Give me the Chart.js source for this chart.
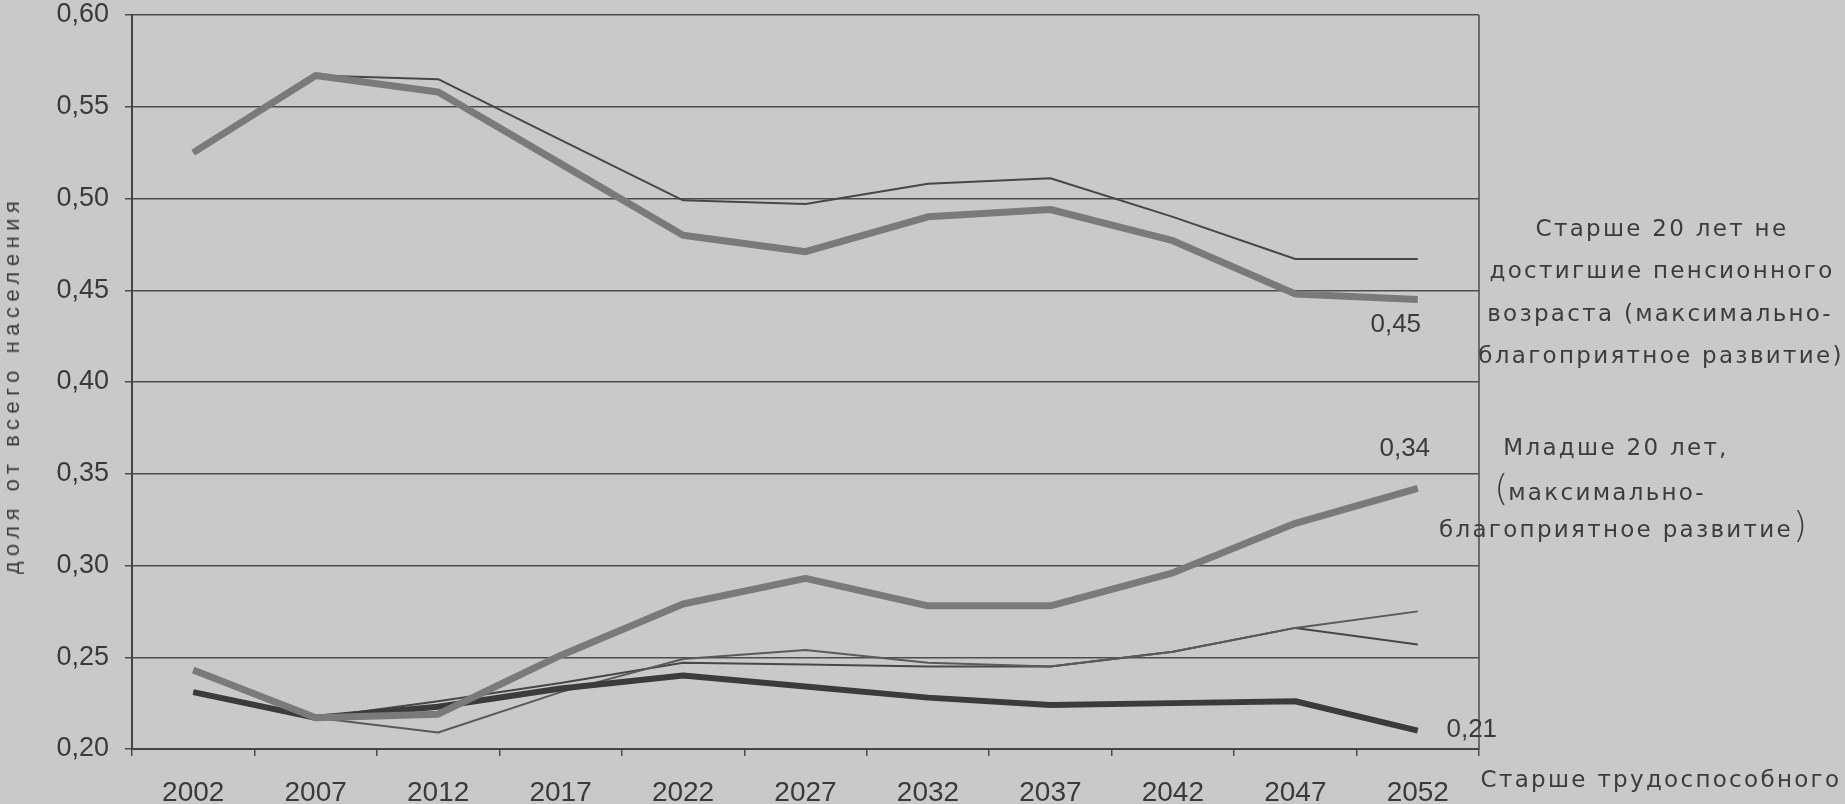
<!DOCTYPE html>
<html><head><meta charset="utf-8">
<script src="https://cdn.jsdelivr.net/npm/chart.js@4/dist/chart.umd.min.js"></script>
<style>
html,body{margin:0;padding:0;background:#c9c9c9;overflow:hidden}
#wrap{position:relative;width:1845px;height:804px;background:#c9c9c9}
canvas{position:absolute;left:0;top:0}
.t{position:absolute;white-space:nowrap;color:#3c3c3c;transform:translate(-50%,-50%);font-family:"DejaVu Sans",sans-serif;font-size:23px;letter-spacing:2.3px}
.p{font-size:36px;letter-spacing:0;font-weight:300}
</style></head><body>
<div id="wrap"><canvas id="c" width="1845" height="804"></canvas></div>
<script>
// ---- data ----
const years = ['2002','2007','2012','2017','2022','2027','2032','2037','2042','2047','2052'];
const yTickLabels = ['0,20','0,25','0,30','0,35','0,40','0,45','0,50','0,55','0,60'];
const workingAgeMax = [0.525,0.567,0.558,0.519,0.480,0.471,0.490,0.494,0.477,0.448,0.445];
const workingAgeAlt = [0.525,0.567,0.565,0.532,0.499,0.497,0.508,0.511,0.490,0.467,0.467];
const youngMax      = [0.243,0.217,0.219,0.251,0.279,0.293,0.278,0.278,0.296,0.323,0.342];
const youngAlt      = [0.243,0.217,0.209,0.231,0.249,0.254,0.247,0.245,0.253,0.266,0.275];
const elderlyMax    = [0.231,0.217,0.223,0.233,0.240,0.234,0.228,0.224,0.225,0.226,0.210];
const elderlyAlt    = [0.231,0.217,0.226,0.236,0.247,0.246,0.245,0.245,0.253,0.266,0.257];
const endLabels     = ['0,45','0,34','0,21'];
const yTitle = 'доля от всего населения';
const seriesNotes = [
  ['Старше 20 лет не','достигшие пенсионного','возраста (максимально-','благоприятное развитие)'],
  ['Младше 20 лет,','(максимально-','благоприятное развитие)'],
  ['Старше трудоспособного']
];

// ---- text placement (HTML) ----
const wrap = document.getElementById('wrap');
function place(html, cx, cy, extra){
  const d = document.createElement('div');
  d.className = 't';
  d.innerHTML = html;
  d.style.left = cx + 'px'; d.style.top = cy + 'px';
  if (extra) Object.assign(d.style, extra);
  wrap.appendChild(d);
  return d;
}
place(yTitle, 12, 385, {transform:'translate(-50%,-50%) rotate(-90deg)', fontFamily:'"Liberation Sans",sans-serif', fontSize:'22px', letterSpacing:'5.5px'});
const n1 = seriesNotes[0];
place(n1[0], 1662, 228); place(n1[1], 1662, 270); place(n1[2], 1660, 313); place(n1[3], 1661, 355);
const n2 = seriesNotes[1];
place(n2[0], 1616, 447);
place(n2[1].replace('(', '<span class="p">(</span>'), 1600, 487);
place(n2[2].replace(')', '<span class="p">)</span>'), 1623, 524);
place(seriesNotes[2][0], 1661, 779);

// ---- chart ----
const GRAY = '#7a7a7a', DARK = '#3b3b3b', THIN = '#474747';
const ends = [
  {ds:0, text:endLabels[0], dx:-22, dy:25},
  {ds:2, text:endLabels[1], dx:-13, dy:-40},
  {ds:4, text:endLabels[2], dx:54, dy:-1}
];
const deco = {
  id:'deco',
  afterDatasetsDraw(chart){
    const {ctx, chartArea:a} = chart;
    ctx.save();
    ctx.strokeStyle = '#4a4a4a'; ctx.lineWidth = 1.5;
    ctx.beginPath(); ctx.moveTo(a.right, a.top); ctx.lineTo(a.right, a.bottom); ctx.stroke();
    ctx.font = '26px "Liberation Sans"'; ctx.fillStyle = '#3a3a3a';
    ctx.textAlign = 'center'; ctx.textBaseline = 'middle';
    ends.forEach(e => {
      const meta = chart.getDatasetMeta(e.ds);
      const pt = meta.data[meta.data.length - 1];
      ctx.fillText(e.text, pt.x + e.dx, pt.y + e.dy);
    });
    ctx.restore();
  }
};
function ds(label, data, color, width, order){
  return {label, data, borderColor:color, borderWidth:width, pointRadius:0, tension:0, fill:false, order, borderJoinStyle:'round', borderCapStyle:'butt'};
}
new Chart(document.getElementById('c'), {
  type:'line',
  data:{
    labels: years,
    datasets:[
      ds('Старше 20 лет, не достигшие пенсионного возраста (макс.)', workingAgeMax, GRAY, 7, 1),
      ds('Старше 20 лет, не достигшие пенсионного возраста', workingAgeAlt, THIN, 2, 2),
      ds('Младше 20 лет (макс.)', youngMax, GRAY, 7, 1),
      ds('Младше 20 лет', youngAlt, '#5a5a5a', 2, 2),
      ds('Старше трудоспособного (макс.)', elderlyMax, DARK, 6, 1),
      ds('Старше трудоспособного', elderlyAlt, THIN, 2, 2)
    ]
  },
  options:{
    responsive:false, animation:false, devicePixelRatio:1,
    layout:{padding:{left:0, right:366, top:0, bottom:0}},
    plugins:{legend:{display:false}, tooltip:{enabled:false}},
    scales:{
      x:{
        offset:true,
        grid:{offset:true, drawOnChartArea:false, tickLength:7, color:'#4a4a4a', lineWidth:1.5},
        border:{display:true, color:'#444', width:2},
        ticks:{autoSkip:false, maxRotation:0, padding:20, color:'#3a3a3a', font:{family:'"Liberation Sans"', size:28}},
        afterFit(s){ s.height = 55; }
      },
      y:{
        min:0.2, max:0.6,
        grid:{tickLength:7, color:'#4d4d4d', lineWidth:1.5},
        border:{display:true, color:'#444', width:2},
        ticks:{stepSize:0.05, padding:16, color:'#3a3a3a', font:{family:'"Liberation Sans"', size:27},
          callback:(v, i) => yTickLabels[i]},
        afterFit(s){ s.width = 132; s.paddingTop = 15; s.paddingBottom = 0; }
      }
    }
  },
  plugins:[deco]
});
</script>
</body></html>
